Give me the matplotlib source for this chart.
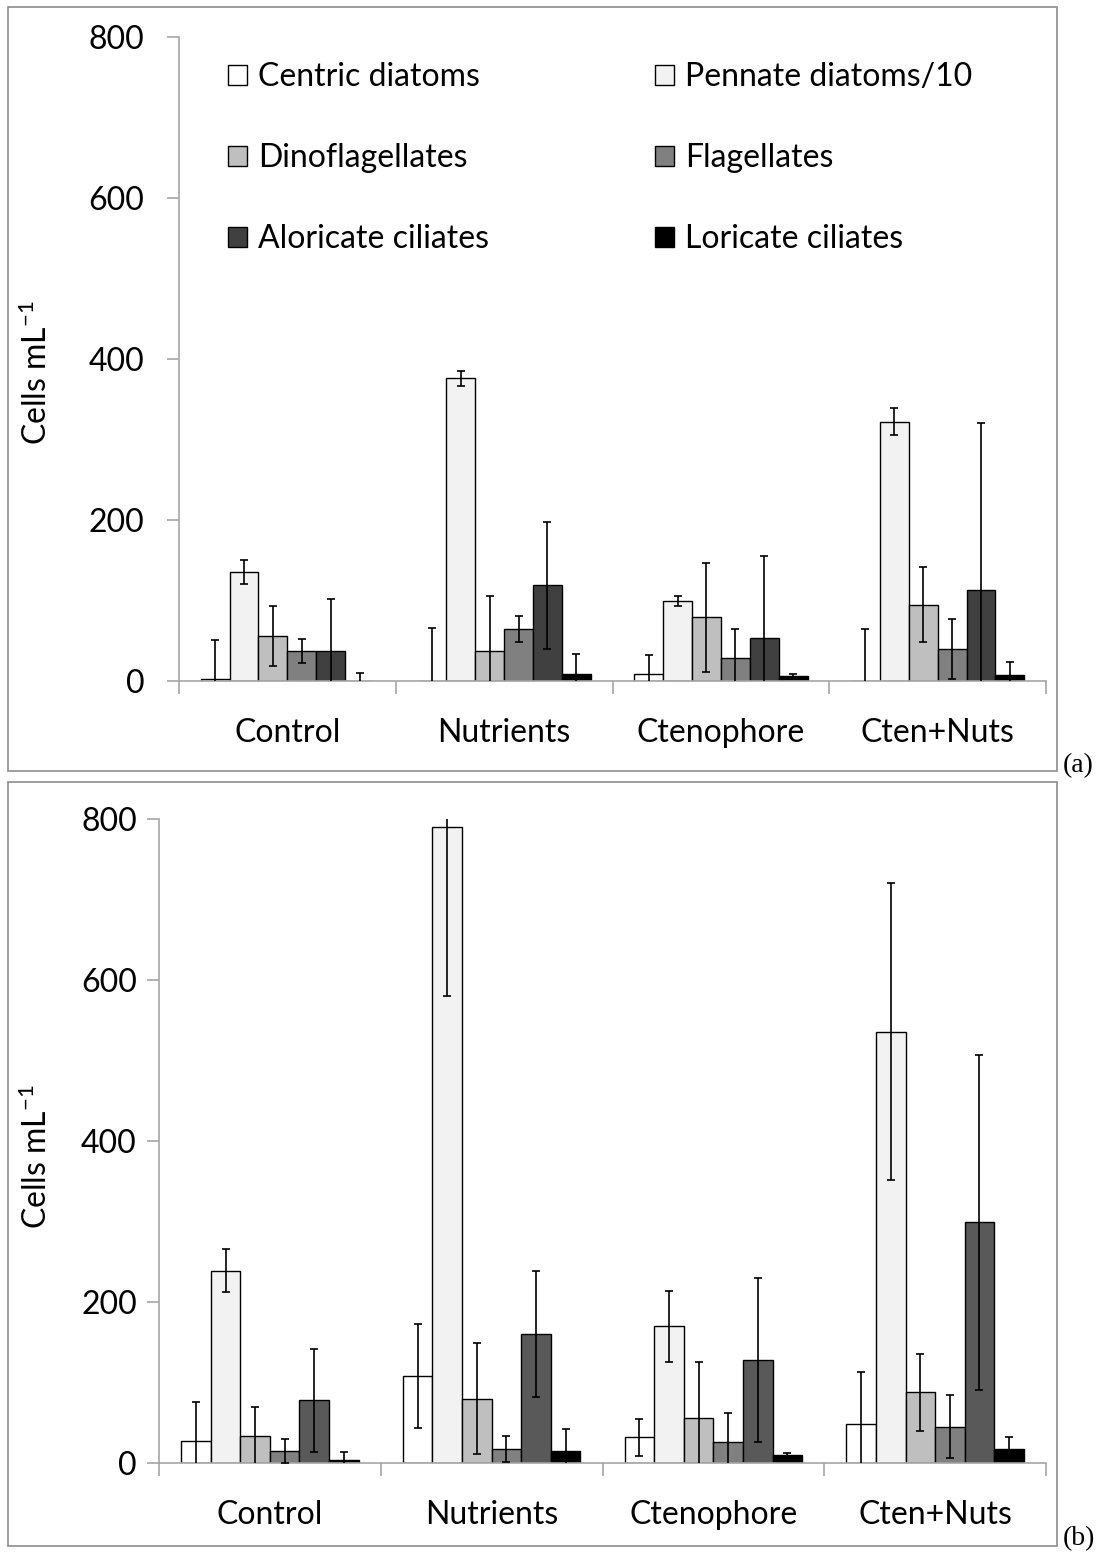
import matplotlib
matplotlib.use('Agg')
import matplotlib.pyplot as plt
from matplotlib.patches import Patch, Rectangle
import numpy as np

plt.rcParams['font.family'] = ['Lato', 'DejaVu Sans']
plt.rcParams['mathtext.fontset'] = 'custom'
plt.rcParams['mathtext.rm'] = 'Lato'

groups = ['Control', 'Nutrients', 'Ctenophore', 'Cten+Nuts']
taxa = ['Centric diatoms', 'Pennate diatoms/10', 'Dinoflagellates',
        'Flagellates', 'Aloricate ciliates', 'Loricate ciliates']

# (a) mean cells per mL, one list per taxon across the four treatments
centric_a = [3, 0, 9, 0]
pennate_a = [135, 376, 99, 322]
dino_a = [56, 37, 79, 95]
flag_a = [37, 65, 29, 40]
alor_a = [37, 119, 53, 113]
lor_a = [0, 9, 6, 7]
# (a) error bars
centric_a_err = [48, 66, 23, 65]
pennate_a_err = [15, 9, 6, 17]
dino_a_err = [37, 69, 68, 47]
flag_a_err = [15, 16, 36, 37]
alor_a_err = [65, 79, 102, 208]
lor_a_err = [10, 25, 3, 16]

# (b) mean cells per mL
centric_b = [27, 108, 32, 49]
pennate_b = [239, 790, 170, 536]
dino_b = [33, 80, 56, 88]
flag_b = [15, 17, 26, 45]
alor_b = [78, 160, 128, 299]
lor_b = [4, 15, 10, 18]
# (b) error bars
centric_b_err = [49, 65, 23, 64]
pennate_b_err = [27, 210, 44, 185]
dino_b_err = [37, 69, 69, 48]
flag_b_err = [15, 16, 36, 39]
alor_b_err = [64, 78, 102, 208]
lor_b_err = [10, 27, 3, 14]

yticks = [0, 200, 400, 600, 800]

colors_a = ['white', '#f2f2f2', '#bfbfbf', '#808080', '#404040', 'black']
colors_b = ['white', '#f2f2f2', '#bfbfbf', '#808080', '#595959', 'black']
axis_grey = '#a6a6a6'
W, H = 1106, 1554
FS = 23


def px(x0, y0, x1, y1):
    # pixel box -> figure fraction [left, bottom, width, height]
    return [x0 / W, 1 - y1 / H, (x1 - x0) / W, (y1 - y0) / H]


def draw_panel(ax, means, errs, colors, ylab_pad):
    n = len(means)
    w = 0.8 / n
    x = np.arange(len(groups))
    for i in range(n):
        pos = x + 0.1 + (i + 0.5) * w
        ax.bar(pos, means[i], width=w, color=colors[i], edgecolor='black',
               linewidth=1.0, zorder=2)
        ax.errorbar(pos, means[i], yerr=errs[i], fmt='none', ecolor='black',
                    elinewidth=1.2, capsize=3, capthick=1.2, zorder=3)
    ax.set_xlim(0, len(groups))
    ax.set_ylim(0, 800)
    ax.set_yticks(yticks)
    ax.set_xticks(np.arange(len(groups) + 1))
    ax.set_xticklabels([])
    ax.set_xticks(x + 0.5, minor=True)
    ax.set_xticklabels(groups, minor=True)
    ax.tick_params(axis='x', which='major', length=9, width=1.2,
                   color=axis_grey, direction='out')
    ax.tick_params(axis='x', which='minor', length=0, pad=27, labelsize=FS)
    ax.tick_params(axis='y', length=9, width=1.2, color=axis_grey,
                   labelsize=FS, pad=ylab_pad)
    for side in ['top', 'right']:
        ax.spines[side].set_visible(False)
    for side in ['left', 'bottom']:
        ax.spines[side].set_color(axis_grey)
        ax.spines[side].set_linewidth(1.2)


fig = plt.figure(figsize=(W / 100, H / 100), dpi=100)

# outer frames around each panel
for box in [(8, 7, 1057, 771), (8, 782, 1057, 1546)]:
    l, b, w, h = px(*box)
    fig.patches.append(Rectangle((l, b), w, h, transform=fig.transFigure,
                                 fill=False, edgecolor='#8c8c8c', linewidth=1.2))

ax1 = fig.add_axes(px(179, 37, 1046, 681))
draw_panel(ax1,
           [centric_a, pennate_a, dino_a, flag_a, alor_a, lor_a],
           [centric_a_err, pennate_a_err, dino_a_err, flag_a_err, alor_a_err, lor_a_err],
           colors_a, 16)

ax2 = fig.add_axes(px(159, 819, 1046, 1463))
draw_panel(ax2,
           [centric_b, pennate_b, dino_b, flag_b, alor_b, lor_b],
           [centric_b_err, pennate_b_err, dino_b_err, flag_b_err, alor_b_err, lor_b_err],
           colors_b, 7)

ylabel = r'Cells mL$\mathregular{^{-1}}$'
fig.text(37 / W, 1 - 373 / H, ylabel, rotation=90, fontsize=FS,
         ha='center', va='center')
fig.text(37 / W, 1 - 1157 / H, ylabel, rotation=90, fontsize=FS,
         ha='center', va='center')

# legend laid out in two columns, filled row by row
handles = [Patch(facecolor=c, edgecolor='black', linewidth=1.0) for c in colors_a]
legend_kw = dict(frameon=False, fontsize=FS, handlelength=0.6, handleheight=0.6,
                 handletextpad=0.35, labelspacing=1.6, borderaxespad=0,
                 borderpad=0, loc='upper left')
leg1 = ax1.legend(handles[0::2], taxa[0::2],
                  bbox_to_anchor=(228 / W, 1 - 62 / H),
                  bbox_transform=fig.transFigure, **legend_kw)
ax1.add_artist(leg1)
ax1.legend(handles[1::2], taxa[1::2],
           bbox_to_anchor=(655 / W, 1 - 62 / H),
           bbox_transform=fig.transFigure, **legend_kw)

fig.text(1063 / W, 1 - 766 / H, '(a)', fontsize=20, family='Liberation Serif',
         ha='left', va='center')
fig.text(1063 / W, 1 - 1539 / H, '(b)', fontsize=20, family='Liberation Serif',
         ha='left', va='center')

fig.savefig('out.png', dpi=100)
